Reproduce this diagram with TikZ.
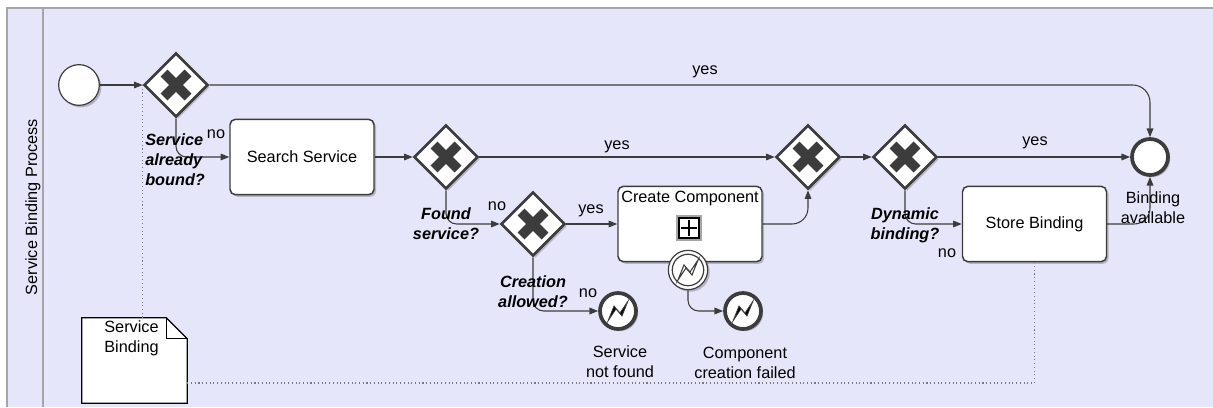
\documentclass[tikz,border=0pt]{standalone}
\usepackage{fontspec}
\setmainfont{Liberation Sans}
\usetikzlibrary{shapes.geometric,shadows,arrows.meta,calc}

\definecolor{poolbg}{RGB}{230,230,250}
\definecolor{poolline}{RGB}{165,165,170}
\definecolor{flowc}{RGB}{60,60,60}
\definecolor{assocc}{RGB}{120,120,130}

\newcommand\gatewaycross[1]{%
  \draw[flowc, line width=7.2pt]
    ($(#1)+(-12,-12)$) -- ($(#1)+(12,12)$)
    ($(#1)+(-12,12)$) -- ($(#1)+(12,-12)$);}
\newcommand\errorbolt[3]{% center, fill, line width
  \begin{scope}[shift={(#1)}]
    \draw[flowc, fill=#2, line width=#3, line join=miter]
      (-10,10) -- (-4,-5) -- (2,2) -- (10,-10) -- (4,5) -- (-2,-2) -- cycle;
  \end{scope}}

\begin{document}
\begin{tikzpicture}[x=0.75pt, y=-0.75pt,
  font=\fontsize{12.2}{15}\selectfont,
  shade/.style={drop shadow={shadow xshift=1.6pt, shadow yshift=-1.6pt, fill=black, opacity=0.22}},
  flow/.style={draw=flowc, line width=0.8pt, -{Triangle[length=6.5pt,width=5pt]}, rounded corners=8pt},
  assoc/.style={draw=assocc, line width=0.8pt, dotted},
  gateway/.style={diamond, draw=flowc, line width=1.9pt, fill=white, shade,
    minimum width=48pt, minimum height=48pt, inner sep=0pt},
  task/.style={rectangle, rounded corners=4pt, draw=flowc, line width=1.1pt, fill=white, shade,
    minimum width=108pt, minimum height=56.5pt, inner sep=2pt},
  startev/.style={circle, draw=flowc, line width=0.9pt, fill=white, shade,
    minimum size=30.5pt, inner sep=0pt},
  endev/.style={circle, draw=flowc, line width=2.8pt, fill=white, shade,
    minimum size=27pt, inner sep=0pt},
  lbl/.style={inner sep=0pt},
  cond/.style={inner sep=0pt, align=center, font=\fontsize{12.2}{15}\selectfont\bfseries\itshape},
]
\useasboundingbox (0,0) rectangle (1213,407);
\fill[white] (0,0) rectangle (1213,407);

% pool and lane
\fill[poolbg] (7,8) rectangle (1213,407);
\draw[poolline, line width=1.4pt] (7,407) -- (7,8) -- (1213,8);
\draw[poolline, line width=1.4pt] (43,8) -- (43,407);
\node[rotate=90, lbl] (lane) at (33,207) {Service Binding Process};

% events, gateways and activities
\node[startev] (start) at (79,85) {};
\node[gateway] (g1) at (176,85) {};
\node[task] (search) at (302,157) {Search Service};
\node[gateway] (g2) at (446,157) {};
\node[gateway] (g3) at (533,224) {};
\node[task] (cc) at (690,224) {};
\node[lbl, anchor=north] (cctitle) at ($(cc.north)+(0,5)$) {Create Component};
\node[gateway] (g4) at (808,157) {};
\node[gateway] (g5) at (905,157) {};
\node[task] (store) at (1034.5,224) {Store Binding};
\node[endev] (endev) at (1150,157) {};
\node[endev] (err1) at (618,311) {};
\node[endev] (err2) at (743,311) {};

\foreach \g in {g1,g2,g3,g4,g5} {\gatewaycross{\g}}

% collapsed sub-process marker
\node[draw=poolline, line width=1.4pt, fill=white, minimum size=18.5pt, inner sep=0pt] (ccframe) at (689,228) {};
\node[draw=black, line width=1.1pt, minimum size=15pt, inner sep=0pt] (ccmark) at (ccframe) {};
\draw[black, line width=1.6pt] ($(ccmark)+(0,-8)$) -- ($(ccmark)+(0,8)$) ($(ccmark)+(-8,0)$) -- ($(ccmark)+(8,0)$);

% attached error event
\node[circle, draw=flowc, line width=0.9pt, fill=white, shade, minimum size=29.5pt, inner sep=0pt] (bnd) at (688,270) {};
\draw[flowc, line width=0.9pt] (bnd) circle[radius=11.8pt];

\errorbolt{err1}{black}{0.6pt}
\errorbolt{err2}{black}{0.6pt}
\errorbolt{bnd}{white}{0.8pt}

% data object
\node[minimum width=78.75pt, minimum height=63.75pt, inner sep=0pt] (doc) at (134.5,360.5) {};
\draw[black, line width=1pt, fill=white]
  (doc.south west) -- (doc.north west) -- ($(doc.north east)+(-21,0)$) -- ($(doc.north east)+(0,21)$) -- (doc.south east) -- cycle;
\draw[black, line width=1pt] ($(doc.north east)+(-21,0)$) -- ($(doc.north east)+(-21,21)$) -- ($(doc.north east)+(0,21)$);
\node[lbl, anchor=north, align=center] (doctext) at ($(doc.north)+(-3,3)$) {Service\\Binding};

% associations
\coordinate (acorner) at (store.south |- 0,383);
\draw[assoc] (g1.west) -- (g1.west |- doc.north);
\draw[assoc] (doc.east |- acorner) -- (acorner) -- (store.south);

% sequence flows
\draw[flow] (start) -- (g1);
\draw[flow, rounded corners=13pt] (g1.east) -- (g1.east -| endev) -- (endev.north);
\draw[flow] (g1.south) |- (search.west);
\draw[flow] (search) -- (g2);
\draw[flow] (g2) -- (g4);
\draw[flow] (g2.south) |- (g3.west);
\draw[flow] (g3) -- (cc);
\draw[flow] (g3.south) |- (err1.west);
\draw[flow, rounded corners=12pt] (cc.east) -| (g4.south);
\draw[flow] (bnd.south) |- (err2.west);
\draw[flow] (g4) -- (g5);
\draw[flow] (g5) -- (endev);
\draw[flow] (g5.south) |- (store.west);
\draw[flow, rounded corners=12pt] (store.east) -| (endev.south);

% flow and gateway labels
\node[lbl] (y1) at (705,72) {yes};
\node[lbl] (n1) at (216,134) {no};
\node[cond, anchor=north west, align=left] (c1) at (145,133) {Service\\already\\bound?};
\node[lbl] (y2) at (617,147) {yes};
\node[cond] (c2) at (446,224) {Found\\service?};
\node[lbl] (n2) at (497,206) {no};
\node[lbl] (y3) at (591,211) {yes};
\node[cond] (c3) at (533,292) {Creation\\allowed?};
\node[lbl] (n3) at (588,293) {no};
\node[cond] (c4) at (905,225) {Dynamic\\binding?};
\node[lbl] (n4) at (947,253) {no};
\node[lbl] (y4) at (1035,143) {yes};
\node[lbl, align=center] (t1) at (1153,208) {Binding\\available};
\node[lbl, align=center] (t2) at (620,362) {Service\\not found};
\node[lbl, align=center] (t3) at (745,363) {Component\\creation failed};
\end{tikzpicture}
\end{document}
